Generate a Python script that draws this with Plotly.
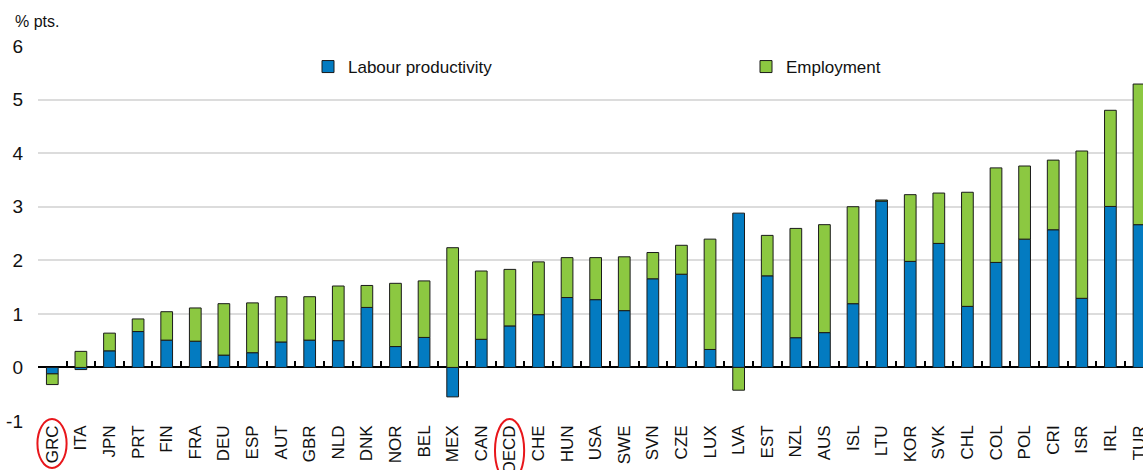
import plotly.graph_objects as go

# Contributions to growth, % pts.
countries = ["GRC", "ITA", "JPN", "PRT", "FIN", "FRA", "DEU", "ESP", "AUT", "GBR",
             "NLD", "DNK", "NOR", "BEL", "MEX", "CAN", "OECD", "CHE", "HUN", "USA",
             "SWE", "SVN", "CZE", "LUX", "LVA", "EST", "NZL", "AUS", "ISL", "LTU",
             "KOR", "SVK", "CHL", "COL", "POL", "CRI", "ISR", "IRL", "TUR"]
labour_productivity = [-0.12, -0.04, 0.31, 0.67, 0.51, 0.49, 0.23, 0.275, 0.475, 0.51,
                       0.50, 1.12, 0.39, 0.56, -0.55, 0.525, 0.775, 0.985, 1.305, 1.265,
                       1.06, 1.655, 1.74, 0.335, 2.88, 1.71, 0.555, 0.65, 1.19, 3.105,
                       1.98, 2.315, 1.14, 1.96, 2.395, 2.57, 1.29, 3.005, 2.665]
employment = [-0.20, 0.30, 0.33, 0.235, 0.53, 0.62, 0.96, 0.93, 0.845, 0.81,
              1.02, 0.41, 1.18, 1.055, 2.235, 1.275, 1.055, 0.985, 0.745, 0.785,
              1.005, 0.49, 0.54, 2.06, -0.425, 0.755, 2.04, 2.015, 1.81, 0.02,
              1.245, 0.94, 2.13, 1.765, 1.365, 1.30, 2.75, 1.795, 2.625]
highlighted = ["GRC", "OECD"]
y_ticks = [-1, 0, 1, 2, 3, 4, 5, 6]
y_tick_text = ["-1", "0", "1", "2", "3", "4", "5", "6"]

BLUE = "#037bc1"
GREEN = "#8cc841"
OUTLINE = "#1a1a1a"
FONT = "Liberation Sans Narrow, Arial Narrow, Liberation Sans, Arial, sans-serif"

W, H = 1143, 470
MARGIN = dict(l=38, r=0, t=46, b=49)
PLOT_W = W - MARGIN["l"] - MARGIN["r"]
PLOT_H = H - MARGIN["t"] - MARGIN["b"]
Y_RANGE = [-1, 6]
X_RANGE = [-0.5, 38.14]


def paper_x(px):
    return (px - MARGIN["l"]) / PLOT_W


def paper_y(py):
    return (H - MARGIN["b"] - py) / PLOT_H


fig = go.Figure()
fig.add_bar(x=countries, y=labour_productivity, name="Labour productivity",
            width=0.41, legend="legend",
            marker=dict(color=BLUE, line=dict(color=OUTLINE, width=1)))
fig.add_bar(x=countries, y=employment, name="Employment",
            width=0.41, legend="legend2",
            marker=dict(color=GREEN, line=dict(color=OUTLINE, width=1)))
# invisible companion trace on a linear axis that carries the
# category-boundary ticks along the zero line
positions = list(range(len(countries)))
fig.add_scatter(x=positions, y=[0] * len(countries), xaxis="x2", mode="markers",
                marker=dict(opacity=0), showlegend=False, hoverinfo="skip")

# red ellipses around highlighted category labels
x_span = X_RANGE[1] - X_RANGE[0]
for name in highlighted:
    i = countries.index(name)
    xc = (i - X_RANGE[0]) / x_span
    fig.add_shape(type="circle", xref="paper", yref="paper",
                  x0=xc - 0.52 / x_span, x1=xc + 0.50 / x_span,
                  y0=paper_y(468 if name == "GRC" else 482), y1=paper_y(419),
                  line=dict(color="#e8161b", width=2))

fig.add_annotation(text="% pts.", xref="paper", yref="paper",
                   x=paper_x(13), y=paper_y(22), xanchor="left", yanchor="middle",
                   showarrow=False, font=dict(family=FONT, size=16, color="#111111"))

zero_pos = (0 - Y_RANGE[0]) / (Y_RANGE[1] - Y_RANGE[0])

legend_style = dict(yanchor="middle", xanchor="left", itemwidth=30,
                    font=dict(size=17), bgcolor="rgba(0,0,0,0)", borderwidth=0)

fig.update_layout(
    width=W, height=H, margin=MARGIN,
    paper_bgcolor="white", plot_bgcolor="white",
    barmode="relative",
    font=dict(family=FONT, size=17, color="#111111"),
    legend=dict(x=paper_x(308), y=paper_y(67), **legend_style),
    legend2=dict(x=paper_x(746), y=paper_y(67), **legend_style),
    xaxis=dict(type="category", range=X_RANGE, showgrid=False, showline=False,
               ticks="", tickangle=-90, tickfont=dict(size=17), automargin=False),
    xaxis2=dict(type="linear", overlaying="x", anchor="free", position=zero_pos,
                range=X_RANGE, side="bottom", showgrid=False, showline=False,
                zeroline=False, tickmode="linear", tick0=-0.5, dtick=1,
                ticks="inside", ticklen=6, tickwidth=2, tickcolor="black",
                showticklabels=False, automargin=False),
    yaxis=dict(range=Y_RANGE, tickvals=y_ticks, ticktext=y_tick_text,
               showgrid=True, gridcolor="#dcdcdc", gridwidth=2,
               zeroline=True, zerolinecolor="black", zerolinewidth=2,
               ticks="", ticklabelstandoff=14, tickfont=dict(size=19),
               automargin=False),
)

fig.write_html("out.html")
